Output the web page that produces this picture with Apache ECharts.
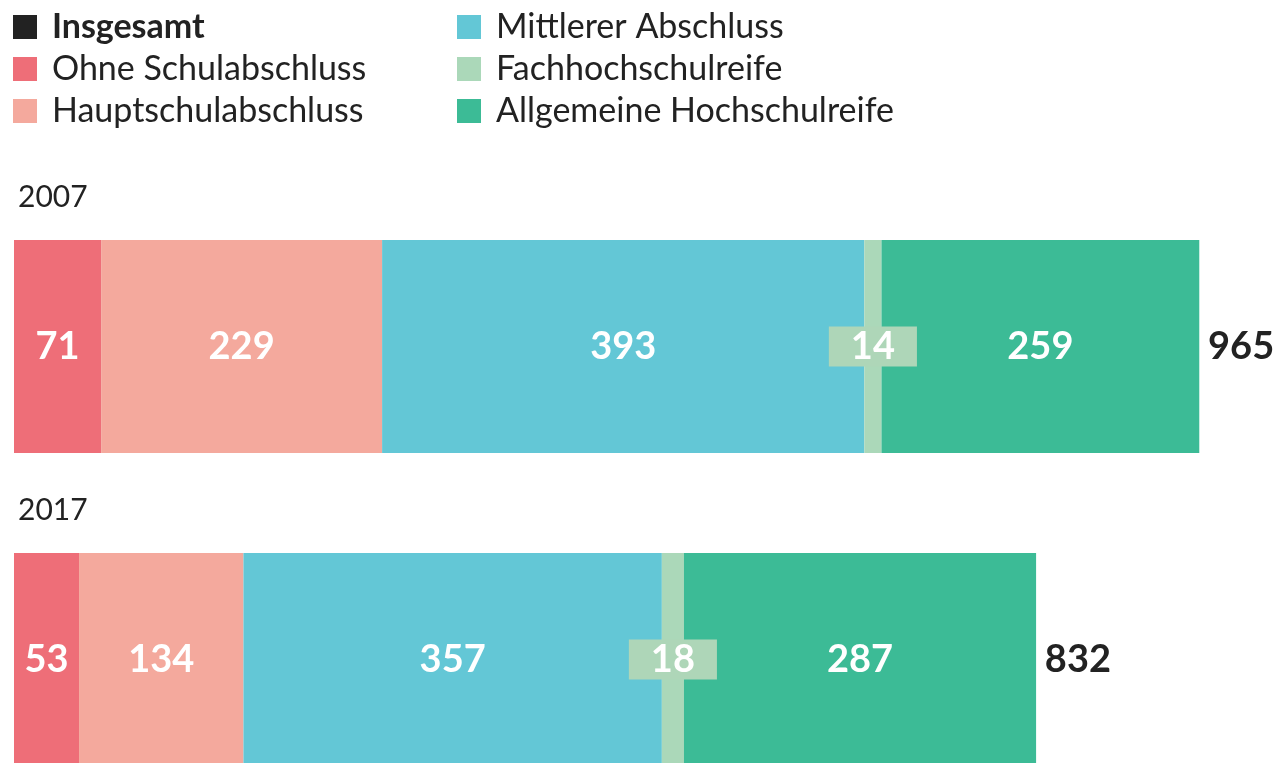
<!DOCTYPE html>
<html>
<head>
<meta charset="utf-8">
<script src="https://cdn.jsdelivr.net/npm/echarts@6/dist/echarts.min.js"></script>
<style>
  html, body { margin: 0; padding: 0; background: #fff; overflow: hidden; }
  #chart { width: 1274px; height: 830px; }
</style>
</head>
<body>
<div id="chart"></div>
<script>
// Daten
var years = ['2007', '2017'];
var ohne = [71, 53];
var haupt = [229, 134];
// im Original ist der 2017er Balken kürzer gezeichnet als die Beschriftung (357)
var mittlerer = [393, 341];
var mittlererLabel = [393, 357];
var fach = [14, 18];
var allgemein = [259, 287];
var insgesamt = [965, 832];

var FONT = 'Lato';
var chart = echarts.init(document.getElementById('chart'));

// Segment im Stapel
function segment(name, data, color, opts) {
  opts = opts || {};
  var label = {
    show: true,
    position: 'inside',
    color: '#fff',
    fontFamily: FONT,
    fontWeight: 'bold',
    fontSize: 38
  };
  if (opts.labels) {
    label.formatter = function (p) { return opts.labels[p.dataIndex]; };
  }
  if (opts.boxColor) {
    label.backgroundColor = opts.boxColor;
    label.padding = [1, 22];
    label.lineHeight = 38;
  }
  return {
    name: name,
    type: 'bar',
    stack: 'total',
    barWidth: 213,
    barGap: '-100%',
    data: data,
    itemStyle: { color: color },
    label: label,
    emphasis: { disabled: true }
  };
}

var legendBase = {
  orient: 'vertical',
  top: 9,
  padding: 0,
  itemWidth: 24,
  itemHeight: 24,
  itemGap: 6,
  icon: 'rect',
  selectedMode: false,
  textStyle: {
    fontFamily: FONT,
    fontSize: 34,
    lineHeight: 36,
    color: '#222',
    padding: [0, 0, 0, 10]
  }
};

chart.setOption({
  backgroundColor: '#fff',
  animation: false,
  legend: [
    Object.assign({}, legendBase, {
      left: 13,
      data: [
        { name: 'Insgesamt', itemStyle: { color: '#222' }, textStyle: { fontWeight: 'bold' } },
        'Ohne Schulabschluss',
        'Hauptschulabschluss'
      ]
    }),
    Object.assign({}, legendBase, {
      left: 457,
      data: ['Mittlerer Abschluss', 'Fachhochschulreife', 'Allgemeine Hochschulreife']
    })
  ],
  grid: { left: 14, right: 33, top: 190, bottom: 14 },
  xAxis: { type: 'value', min: 0, max: 1000, show: false },
  yAxis: {
    type: 'category',
    data: years,
    inverse: true,
    axisLine: { show: false },
    axisTick: { show: false },
    axisLabel: {
      inside: true,
      margin: 4,
      verticalAlign: 'bottom',
      padding: [0, 0, 134, 0],
      fontFamily: FONT,
      fontSize: 30,
      color: '#222'
    },
    z: 10
  },
  series: [
    segment('Ohne Schulabschluss', ohne, '#ee6e78'),
    segment('Hauptschulabschluss', haupt, '#f4a99d'),
    segment('Mittlerer Abschluss', mittlerer, '#63c7d6', { labels: mittlererLabel }),
    segment('Fachhochschulreife', fach, '#abd8b9', { boxColor: '#aed6b8' }),
    segment('Allgemeine Hochschulreife', allgemein, '#3cbb96'),
    {
      name: 'Insgesamt',
      type: 'bar',
      barWidth: 213,
      barGap: '-100%',
      data: insgesamt,
      itemStyle: { color: 'rgba(0,0,0,0)' },
      label: {
        show: true,
        position: 'right',
        distance: 10,
        color: '#222',
        fontFamily: FONT,
        fontWeight: 'bold',
        fontSize: 38
      },
      emphasis: { disabled: true },
      z: 1
    }
  ]
});
</script>
</body>
</html>
